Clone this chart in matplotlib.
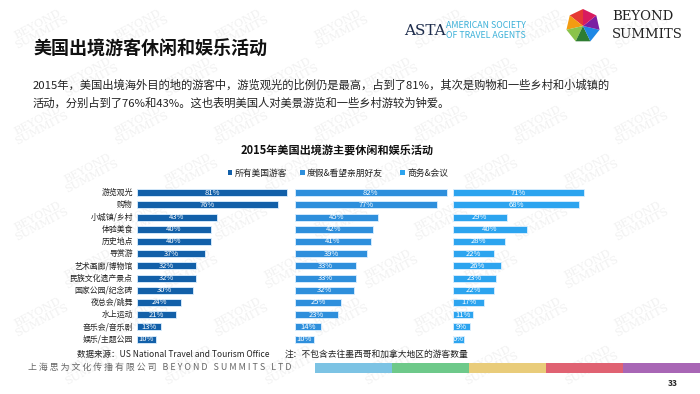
import numpy as np
import matplotlib
matplotlib.use('Agg')
import matplotlib.pyplot as plt
from matplotlib.patches import Rectangle, Polygon

plt.rcParams['font.family'] = ['Noto Sans CJK SC', 'DejaVu Sans']

# data
categories = ['游览观光', '购物', '小城镇/乡村', '体验美食', '历史地点', '导赏游',
              '艺术画廊/博物馆', '民族文化遗产景点', '国家公园/纪念碑', '夜总会/跳舞',
              '水上运动', '音乐会/音乐剧', '娱乐/主题公园']
all_travelers = [81, 76, 43, 40, 40, 37, 32, 32, 30, 24, 21, 13, 10]
vacation_vfr = [82, 77, 45, 42, 41, 39, 33, 33, 32, 25, 23, 14, 10]
business = [71, 68, 29, 40, 28, 22, 26, 23, 22, 17, 11, 9, 6]
series_names = ['所有美国游客', '度假&看望亲朋好友', '商务&会议']
series_colors = ['#1260a9', '#2e8fdc', '#2ca4ef']
strip_colors = ['#7cc3e4', '#6ec98a', '#e9cc7a', '#e06272', '#a866b5']

W, H = 700, 394
fig = plt.figure(figsize=(7, 3.94), dpi=100)
fig.patch.set_facecolor('white')


def px(x, y):
    return x / W, 1 - y / H


# faint watermark, kept inside the page
for row in range(8):
    for col in range(7):
        x = col * 100 + (row % 2) * 50 + 40
        y = row * 48 + 28
        if x > 665 or y > 370:
            continue
        fig.text(*px(x, y), 'BEYOND\nSUMMITS', color='#f1f1f1', fontsize=8,
                 family='DejaVu Serif', rotation=28, ha='center', va='center',
                 linespacing=0.9, zorder=-10)

# page title and intro
fig.text(*px(33, 49), '美国出境游客休闲和娱乐活动', fontsize=13, fontweight='bold',
         color='#111111', va='center')
fig.text(*px(33, 85), '2015年，美国出境海外目的地的游客中，游览观光的比例仍是最高，占到了81%，其次是购物和一些乡村和小城镇的',
         fontsize=8.15, color='#222222', va='center')
fig.text(*px(33, 103), '活动，分别占到了76%和43%。这也表明美国人对美景游览和一些乡村游较为钟爱。',
         fontsize=8.15, color='#222222', va='center')

# logos (approximate)
fig.text(*px(404, 31), 'ASTA', fontsize=11, family='DejaVu Serif', color='#1b2a4a', va='center')
fig.text(*px(446, 25), 'AMERICAN SOCIETY', fontsize=6.3, color='#3ab0d8', va='center')
fig.text(*px(446, 36), 'OF TRAVEL AGENTS', fontsize=6.3, color='#3ab0d8', va='center')
cx, cy, r = 583, 26, 17
ang = np.deg2rad(np.arange(7) * 360 / 7 + 90)
hex_cols = ['#e53935', '#f39c12', '#8bc34a', '#2e7d32', '#1e88e5', '#7b1fa2', '#d81b60']
for i in range(7):
    p1 = (cx + r * np.cos(ang[i]), cy - r * np.sin(ang[i]))
    p2 = (cx + r * np.cos(ang[(i + 1) % 7]), cy - r * np.sin(ang[(i + 1) % 7]))
    fig.add_artist(Polygon([px(cx, cy), px(*p1), px(*p2)], closed=True,
                           transform=fig.transFigure, facecolor=hex_cols[i], edgecolor='none'))
fig.text(*px(612, 17), 'BEYOND', fontsize=9.5, family='DejaVu Serif', color='#222222', va='center')
fig.text(*px(612, 34), 'SUMMITS', fontsize=9.5, family='DejaVu Serif', color='#222222', va='center')

# chart title and legend
fig.text(*px(337, 150), '2015年美国出境游主要休闲和娱乐活动', fontsize=8, fontweight='bold',
         color='#111111', ha='center', va='center')
legend_x = [230, 302, 402]
for lx, name, col in zip(legend_x, series_names, series_colors):
    fig.add_artist(Rectangle(px(lx - 2.5, 175), 5 / W, 5 / H, transform=fig.transFigure,
                             facecolor=col, edgecolor='none'))
    fig.text(*px(lx + 5, 173), name, fontsize=6.3, color='#222222', va='center')

# bar panels
ypos = np.arange(len(categories))
panel_left = [137, 295, 453]
for i, (vals, col) in enumerate(zip([all_travelers, vacation_vfr, business], series_colors)):
    ax = fig.add_axes([panel_left[i] / W, 1 - 345.2 / H, 158 / W, 158.6 / H])
    ax.barh(ypos, vals, height=0.58, color=col, edgecolor='#dcefff', linewidth=0.6)
    for y, v in zip(ypos, vals):
        ax.text(v / 2, y, f'{v}%', color='white', fontsize=5.5, ha='center', va='center')
    ax.set_xlim(0, 85.4)
    ax.set_ylim(len(categories) - 0.5, -0.5)
    ax.axis('off')
    ax.patch.set_alpha(0)
    if i == 0:
        for y, c in zip(ypos, categories):
            ax.text(-2.2, y, c, fontsize=5.7, color='#222222', ha='right', va='center')

# notes
fig.text(*px(77, 354), '数据来源：US National Travel and Tourism Office', fontsize=6.1,
         color='#222222', va='center')
fig.text(*px(285, 354), '注：不包含去往墨西哥和加拿大地区的游客数量', fontsize=6.3,
         color='#222222', va='center')

# footer
fig.text(*px(28, 367), '上 海 思 为 文 化 传 播 有 限 公 司   B E Y O N D   S U M M I T S   L T D',
         fontsize=6.4, color='#666666', va='center')
for k, col in enumerate(strip_colors):
    fig.add_artist(Rectangle(px(315 + k * 77, 373), 77 / W, 10.5 / H, transform=fig.transFigure,
                             facecolor=col, edgecolor='none'))
fig.text(*px(668, 383), '33', fontsize=6, fontweight='bold', color='#222222', va='center')

fig.savefig('out.png', dpi=100)
